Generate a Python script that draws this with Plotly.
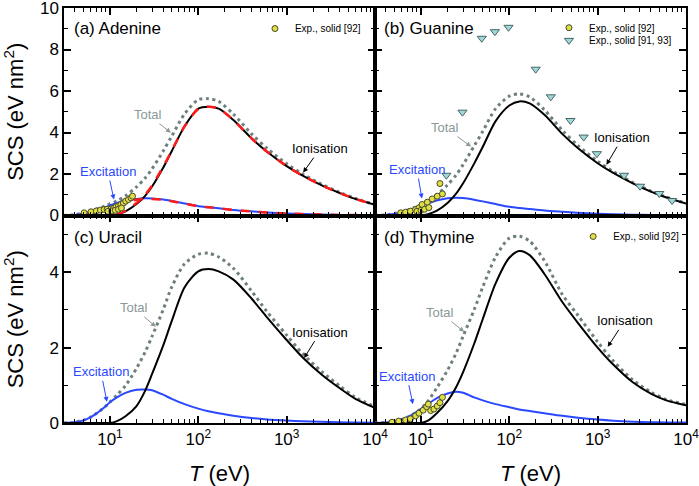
import plotly.graph_objects as go
from plotly.subplots import make_subplots

# ---------------- data ----------------
T_grid = [3, 4, 5, 6, 7, 8, 9, 10, 12, 15, 20, 25, 30, 40, 50, 70, 100, 130, 170,
          250, 400, 600, 1000, 1500, 2500, 4000, 6000, 10000]

# (a) Adenine
ion_a = [0, 0, 0, 0, 0, 0, 0, 0, 0.05, 0.2, 0.55, 0.95, 1.4, 2.3, 3.1, 4.3, 5.15, 5.24, 5.15,
         4.6, 3.72, 3.07, 2.38, 1.93, 1.45, 1.08, 0.8, 0.52]
exc_a = [0, 0.03, 0.1, 0.18, 0.26, 0.34, 0.41, 0.48, 0.6, 0.72, 0.8, 0.83, 0.82, 0.77, 0.7, 0.58,
         0.45, 0.4, 0.35, 0.27, 0.2, 0.15, 0.1, 0.075, 0.05, 0.03, 0.02, 0.012]
tot_a = [0, 0.04, 0.12, 0.21, 0.3, 0.39, 0.47, 0.56, 0.7, 0.95, 1.38, 1.8, 2.25, 3.1, 3.82, 4.9,
         5.58, 5.63, 5.5, 4.88, 3.94, 3.23, 2.49, 2.01, 1.5, 1.11, 0.82, 0.53]
red_ion_a = [0, 0, 0, 0, 0, 0, 0, 0.01, 0.06, 0.22, 0.6, 1.0, 1.45, 2.35, 3.12, 4.3, 5.13, 5.24, 5.15,
             4.6, 3.72, 3.07, 2.38, 1.93, 1.45, 1.08, 0.8, 0.52]
red_exc_a = [0, 0.01, 0.05, 0.11, 0.18, 0.25, 0.32, 0.38, 0.5, 0.65, 0.76, 0.8, 0.8, 0.76, 0.69, 0.57,
             0.45, 0.4, 0.35, 0.27, 0.2, 0.15, 0.1, 0.075, 0.05, 0.03, 0.02, 0.012]
exp_a_T = [5.1, 6.1, 7.0, 7.8, 8.6, 9.3, 10.3, 11.0, 11.7, 12.5, 13.3, 14.2, 15.1, 16.2, 17.3, 18.0,
           9.5, 10.5, 11.5, 12.5, 13.5]
exp_a_v = [0.13, 0.18, 0.22, 0.26, 0.29, 0.3, 0.32, 0.36, 0.42, 0.47, 0.53, 0.6, 0.69, 0.77, 0.85, 0.93,
           0.2, 0.22, 0.25, 0.3, 0.36]

# (b) Guanine
ion_b = [0, 0, 0, 0, 0, 0, 0, 0, 0.06, 0.22, 0.6, 1.05, 1.55, 2.5, 3.3, 4.55, 5.3, 5.5, 5.4,
         4.85, 3.92, 3.24, 2.52, 2.05, 1.55, 1.15, 0.87, 0.58]
exc_b = [0, 0.02, 0.07, 0.14, 0.22, 0.3, 0.38, 0.45, 0.58, 0.72, 0.83, 0.86, 0.84, 0.76, 0.68, 0.55,
         0.42, 0.36, 0.31, 0.24, 0.18, 0.13, 0.09, 0.065, 0.04, 0.028, 0.018, 0.011]
tot_b = [0, 0.03, 0.09, 0.17, 0.26, 0.35, 0.44, 0.52, 0.68, 0.98, 1.48, 1.95, 2.45, 3.35, 4.05, 5.15,
         5.75, 5.86, 5.71, 5.09, 4.1, 3.37, 2.61, 2.12, 1.59, 1.18, 0.89, 0.59]
exp_b_T = [5.9, 6.7, 7.6, 8.7, 9.5, 10.3, 11.8, 13.4, 15.3, 17.5, 16.4, 9.0, 10.0, 11.0, 12.3]
exp_b_v = [0.13, 0.16, 0.21, 0.29, 0.37, 0.53, 0.64, 0.8, 0.93, 1.04, 1.54, 0.2, 0.25, 0.3, 0.38]
exp2_b_T = [19.4, 29.5, 48.8, 68.7, 98, 199, 295, 492, 694, 980, 1990, 3020, 4980, 6950]
exp2_b_v = [1.94, 4.98, 8.54, 8.86, 9.07, 7.05, 5.72, 4.58, 3.78, 2.98, 1.94, 1.41, 1.06, 0.72]

# (c) Uracil
ion_c = [0, 0, 0, 0, 0, 0, 0, 0, 0.05, 0.18, 0.45, 0.85, 1.3, 2.05, 2.7, 3.6, 4.02, 4.08, 4.02,
         3.8, 3.3, 2.8, 2.2, 1.75, 1.28, 0.92, 0.64, 0.4]
exc_c = [0, 0.02, 0.07, 0.15, 0.25, 0.35, 0.45, 0.55, 0.68, 0.8, 0.88, 0.89, 0.87, 0.75, 0.64, 0.5,
         0.38, 0.31, 0.26, 0.19, 0.13, 0.095, 0.065, 0.045, 0.03, 0.02, 0.013, 0.008]
tot_c = [0, 0.02, 0.07, 0.15, 0.25, 0.35, 0.45, 0.56, 0.74, 0.99, 1.45, 1.88, 2.3, 3.0, 3.6, 4.22,
         4.47, 4.5, 4.4, 4.1, 3.5, 2.95, 2.33, 1.85, 1.36, 0.98, 0.68, 0.43]

# (d) Thymine
ion_d = [0, 0, 0, 0, 0, 0, 0, 0, 0.06, 0.25, 0.58, 0.95, 1.35, 2.1, 2.75, 3.7, 4.38, 4.56, 4.45,
         3.95, 3.2, 2.65, 2.0, 1.55, 1.08, 0.78, 0.6, 0.47]
exc_d = [0, 0.01, 0.04, 0.09, 0.15, 0.22, 0.3, 0.37, 0.5, 0.65, 0.78, 0.83, 0.8, 0.68, 0.6, 0.5,
         0.42, 0.36, 0.32, 0.26, 0.19, 0.14, 0.09, 0.06, 0.035, 0.022, 0.015, 0.01]
tot_d = [0, 0.01, 0.04, 0.09, 0.15, 0.22, 0.3, 0.38, 0.58, 0.92, 1.4, 1.85, 2.3, 3.0, 3.6, 4.4,
         4.9, 4.95, 4.82, 4.3, 3.4, 2.85, 2.15, 1.65, 1.14, 0.82, 0.62, 0.49]
exp_d_T = [4.7, 5.6, 6.7, 7.6, 8.7, 9.5, 10.6, 11.6, 12.1, 12.9, 14.0, 15.3, 16.4, 17.5]
exp_d_v = [0.02, 0.05, 0.08, 0.11, 0.19, 0.26, 0.34, 0.43, 0.5, 0.33, 0.37, 0.45, 0.54, 0.68]

panel_labels = ["(a) Adenine", "(b) Guanine", "(c) Uracil", "(d) Thymine"]
x_tickvals = [10, 100, 1000, 10000]
x_ticktext = ["10<sup>1</sup>", "10<sup>2</sup>", "10<sup>3</sup>", "10<sup>4</sup>"]
x_minor = [m * 10 ** k for k in range(0, 4) for m in range(2, 10)]

# ---------------- styles ----------------
BLACK = "#000000"
BLUE = "#2a48ff"
GRAY = "#6f7f7f"
GRAY_TXT = "#8a9898"
RED = "#ff1a1a"
FONT = "Liberation Sans, Arial, sans-serif"

fig = make_subplots(rows=2, cols=2, horizontal_spacing=0, vertical_spacing=0)

def add_curves(row, col, ion, exc, tot):
    fig.add_trace(go.Scatter(x=T_grid, y=tot, mode="lines",
                             line=dict(color=GRAY, width=3, dash="3px,3.5px", shape="spline", smoothing=0.8),
                             showlegend=False), row=row, col=col)
    fig.add_trace(go.Scatter(x=T_grid, y=exc, mode="lines",
                             line=dict(color=BLUE, width=2, shape="spline", smoothing=0.8),
                             showlegend=False), row=row, col=col)
    fig.add_trace(go.Scatter(x=T_grid, y=ion, mode="lines",
                             line=dict(color=BLACK, width=2, shape="spline", smoothing=0.8),
                             showlegend=False), row=row, col=col)

circle_marker = dict(symbol="circle", size=6, color="#dede45", line=dict(color="#4a4a2a", width=1))
tri_marker = dict(symbol="triangle-down", size=8, color="#9fd8d8", line=dict(color="#4a6464", width=1))

# (a)
add_curves(1, 1, ion_a, exc_a, tot_a)
fig.add_trace(go.Scatter(x=T_grid, y=red_ion_a, mode="lines",
                         line=dict(color=RED, width=2.5, dash="dash", shape="spline", smoothing=0.8),
                         showlegend=False), 1, 1)
fig.add_trace(go.Scatter(x=T_grid, y=red_exc_a, mode="lines",
                         line=dict(color=RED, width=2.5, dash="dash", shape="spline", smoothing=0.8),
                         showlegend=False), 1, 1)
fig.add_trace(go.Scatter(x=exp_a_T, y=exp_a_v, mode="markers", marker=circle_marker,
                         name="Exp., solid [92]", legend="legend"), 1, 1)
# (b)
add_curves(1, 2, ion_b, exc_b, tot_b)
fig.add_trace(go.Scatter(x=exp_b_T, y=exp_b_v, mode="markers", marker=circle_marker,
                         name="Exp., solid [92]", legend="legend2"), 1, 2)
fig.add_trace(go.Scatter(x=exp2_b_T, y=exp2_b_v, mode="markers", marker=tri_marker,
                         name="Exp., solid [91, 93]", legend="legend4"), 1, 2)
# (c)
add_curves(2, 1, ion_c, exc_c, tot_c)
# (d)
add_curves(2, 2, ion_d, exc_d, tot_d)
fig.add_trace(go.Scatter(x=exp_d_T, y=exp_d_v, mode="markers", marker=circle_marker,
                         name="Exp., solid [92]", legend="legend3"), 2, 2)

# ---------------- axes ----------------
common_x = dict(type="log", range=[0.48, 4.0], tickvals=x_tickvals, ticktext=x_ticktext,
                ticks="inside", ticklen=7, tickwidth=1.5, tickcolor="black",
                showline=True, linecolor="black", linewidth=1.5, mirror="allticks",
                showgrid=False, zeroline=False, automargin=False, ticklabeloverflow="allow",
                minor=dict(tickvals=x_minor, ticks="inside", ticklen=4, tickwidth=1.2, tickcolor="black",
                           showgrid=False),
                tickfont=dict(size=17, family=FONT, color="black"))
for r in (1, 2):
    for c in (1, 2):
        fig.update_xaxes(common_x, row=r, col=c, showticklabels=(r == 2))
        if r == 2:
            fig.update_xaxes(title=dict(text="<i>T</i> (eV)", font=dict(size=22, family=FONT), standoff=21),
                             row=r, col=c)

common_y = dict(ticks="inside", ticklen=7, tickwidth=1.5, tickcolor="black", dtick=2, tick0=0,
                showline=True, linecolor="black", linewidth=1.5, mirror="allticks",
                showgrid=False, zeroline=False, automargin=False, ticklabeloverflow="allow",
                minor=dict(dtick=1, ticks="inside", ticklen=4, tickwidth=1.2, tickcolor="black", showgrid=False),
                tickfont=dict(size=17, family=FONT, color="black"))
for c in (1, 2):
    fig.update_yaxes(common_y, row=1, col=c, range=[0, 10], showticklabels=(c == 1))
    fig.update_yaxes(common_y, row=2, col=c, range=[0, 5.5], showticklabels=(c == 1))
for r in (1, 2):
    fig.update_yaxes(title=dict(text="SCS (eV nm<sup>2</sup>)", font=dict(size=22, family=FONT), standoff=22),
                     row=r, col=1)

# ---------------- annotations ----------------
ann = []
label_pos = [(0.013, 0.950), (0.511, 0.950), (0.013, 0.446), (0.511, 0.448)]
for txt, (px, py) in zip(panel_labels, label_pos):
    ann.append(dict(text=txt, x=px, y=py, xref="paper", yref="paper", xanchor="left", yanchor="middle",
                    showarrow=False, font=dict(size=17, family=FONT, color="black")))

# (text, xref, yref, log10 T of head, value of head, ax, ay, colour)
callouts = [
    ("Total", "x", "y", 1.69, 3.99, -23, -18, GRAY_TXT),
    ("Ionisation", "x", "y", 3.187, 2.07, 17, -24, BLACK),
    ("Excitation", "x", "y", 1.045, 0.77, -6, -28, BLUE),
    ("Total", "x2", "y2", 1.568, 3.32, -26, -19, GRAY_TXT),
    ("Ionisation", "x2", "y2", 3.10, 2.45, 16, -27, BLACK),
    ("Excitation", "x2", "y2", 1.011, 0.82, -5, -29, BLUE),
    ("Total", "x3", "y3", 1.519, 2.55, -22, -19, GRAY_TXT),
    ("Ionisation", "x3", "y3", 3.198, 1.72, 16, -26, BLACK),
    ("Excitation", "x3", "y3", 0.966, 0.56, -6, -30, BLUE),
    ("Total", "x4", "y4", 1.489, 2.42, -24, -19, GRAY_TXT),
    ("Ionisation", "x4", "y4", 3.114, 2.02, 17, -26, BLACK),
    ("Excitation", "x4", "y4", 0.909, 0.50, -6, -28, BLUE),
]
for txt, xr, yr, lx, vy, ax, ay, col in callouts:
    ann.append(dict(text=txt, x=lx, y=vy, xref=xr, yref=yr, ax=ax, ay=ay, showarrow=True,
                    arrowhead=2, arrowsize=1, arrowwidth=1, arrowcolor=col,
                    font=dict(size=13, family=FONT, color=col)))

legend_common = dict(font=dict(size=10, family=FONT, color="black"), bgcolor="rgba(0,0,0,0)",
                     itemwidth=30, xanchor="left", yanchor="top", tracegroupgap=0)

fig.update_layout(
    width=699, height=486,
    margin=dict(l=64, r=13, t=8, b=63, autoexpand=False),
    plot_bgcolor="white", paper_bgcolor="white",
    font=dict(family=FONT, size=17, color="black"),
    annotations=ann,
    legend=dict(legend_common, x=0.307, y=0.9855),
    legend2=dict(legend_common, x=0.7797, y=0.9875),
    legend4=dict(legend_common, x=0.7797, y=0.957),
    legend3=dict(legend_common, x=0.8186, y=0.4844),
)

fig.write_html("out.html", config={"displayModeBar": False},
               post_script="document.body.style.margin='0';document.body.style.overflow='hidden';")
